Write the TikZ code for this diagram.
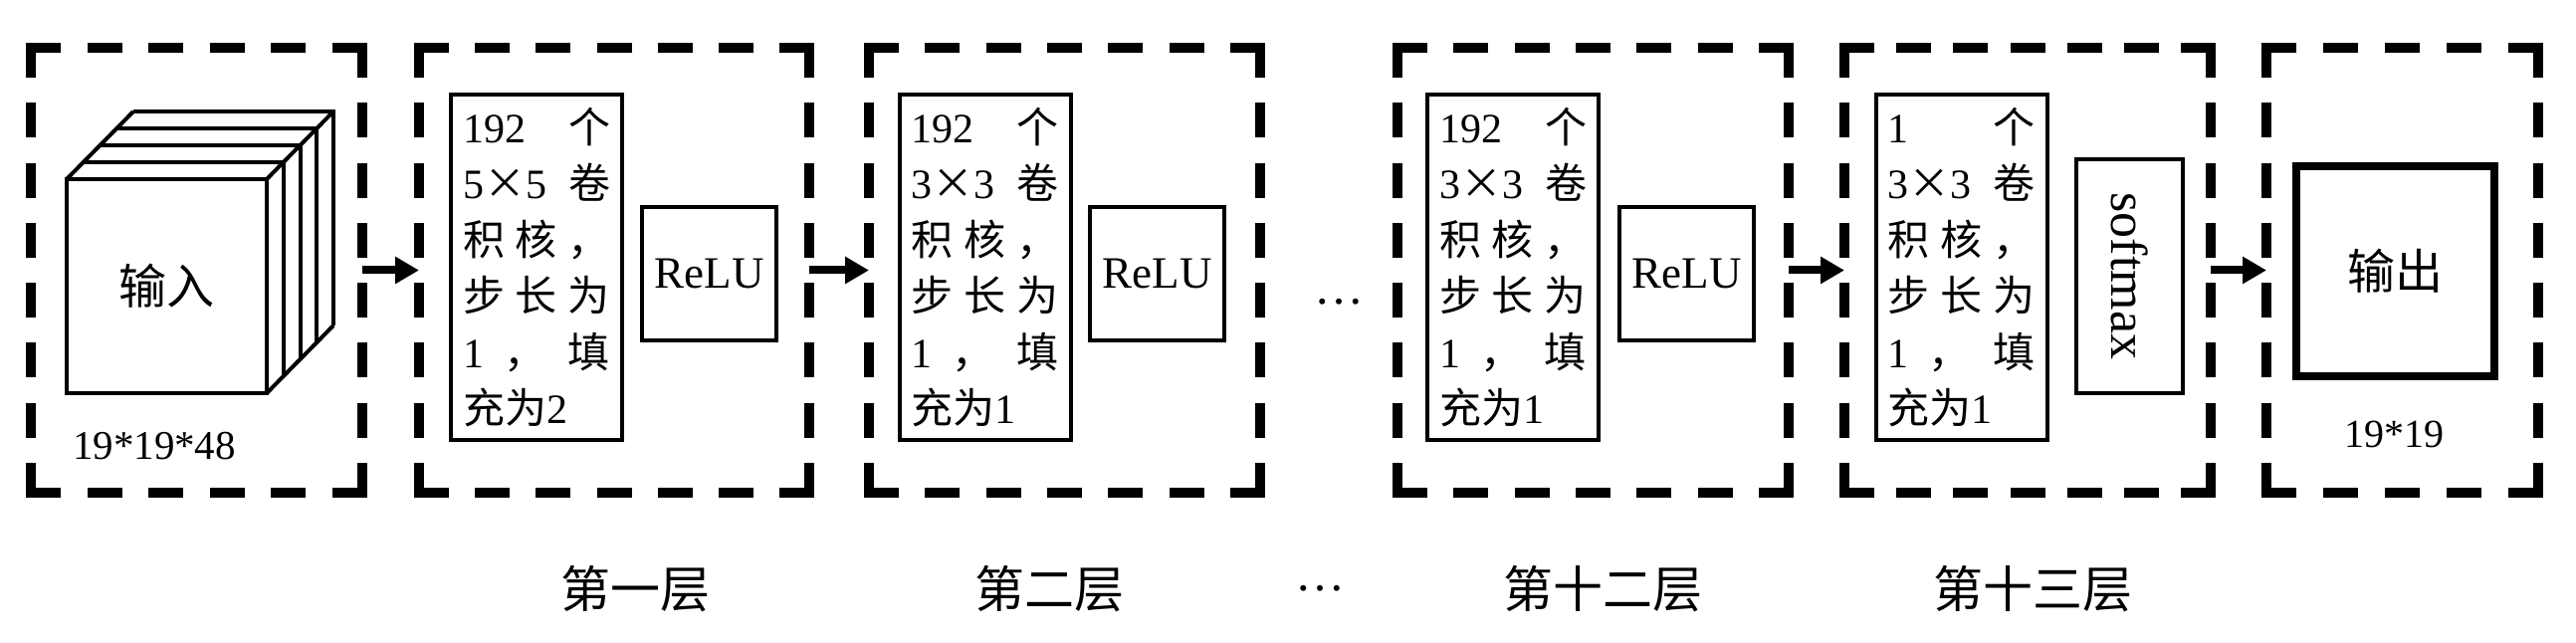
\documentclass[tikz,border=0pt]{standalone}
\usepackage{fontspec}
\setmainfont{Liberation Serif}
\newfontfamily\cjk{Noto Sans CJK SC}
\newfontfamily\cjkfw[CharacterWidth=Full]{Noto Sans CJK SC}
\usetikzlibrary{arrows.meta}
\newcommand\zh[1]{{\cjk #1}}
\newcommand\cv[3]{\makebox[26.5pt][l]{#1}\makebox[26.5pt][l]{#2}#3}
\newcommand\fside[4]{%
  \pgfmathsetmacro\fsL{abs(#3-#1)+abs(#4-#2)}%
  \pgfmathsetmacro\fsN{max(1,round((\fsL-25)/61))}%
  \pgfmathsetmacro\fsG{((\fsL-25)/\fsN-25)*0.5}%
  \draw[frameline, dash pattern=on 12.5pt off \fsG pt] (#1,#2) -- (#3,#4);}
\newcommand\frm[5]{%
  \node[frame, minimum width={(#4-#2)*0.5pt}, minimum height={(#5-#3)*0.5pt}] (#1) at ({(#2+#4)/2},{(#3+#5)/2}) {};
  \fside{#2}{#3}{#4}{#3}\fside{#4}{#3}{#4}{#5}\fside{#4}{#5}{#2}{#5}\fside{#2}{#5}{#2}{#3}}
\tikzset{
  frameline/.style={line width=5pt, line cap=rect},
  frame/.style={inner sep=0pt, outer sep=0pt},
  convbox/.style={draw, line width=2pt, inner sep=0pt, minimum width=86pt, minimum height=173.5pt,
    text width=74pt, align=left, font=\fontsize{21}{28.25}\selectfont},
  actbox/.style={draw, line width=2pt, inner sep=0pt, minimum width=67.5pt, minimum height=67pt,
    font=\fontsize{22.5}{27}\selectfont},
  cube/.style={line width=2pt, line join=miter},
  conn/.style={line width=4pt, -{Triangle[length=12pt,width=13pt]}},
  dimlabel/.style={font=\fontsize{20.5}{24}\selectfont},
  layerlabel/.style={font=\cjk\fontsize{25}{30}\selectfont},
  dotsstyle/.style={font=\fontsize{25}{30}\selectfont, anchor=base, inner sep=0pt},
}
\begin{document}
\begin{tikzpicture}[x=0.5pt, y=-0.5pt]
\useasboundingbox (0,0) rectangle (2588,646);

% dashed frames
\frm{f0}{31}{48}{364}{495}
\frm{f1}{421}{48}{813}{495}
\frm{f2}{873}{48}{1266}{495}
\frm{f3}{1404}{48}{1797}{495}
\frm{f4}{1853}{48}{2221}{495}
\frm{f5}{2277}{48}{2550}{495}

% input cube
\foreach \k in {4,3,2,1} {
  \draw[cube] ({67+16.75*\k},{180-17*\k}) -- ({268+16.75*\k},{180-17*\k}) -- ({268+16.75*\k},{395-17*\k});
}
\draw[cube] (67,180) -- (134,112);
\draw[cube] (268,180) -- (335,112);
\draw[cube] (268,395) -- (335,327);
\node[draw, line width=2pt, inner sep=0pt, minimum width=100.5pt, minimum height=107.5pt,
  font=\cjk\fontsize{24}{28}\selectfont, fill=white] (inface) at (167.5,287.5) {输入};
\node[dimlabel] (indim) at (155,448) {19*19*48};

% layer 1
\node[convbox] (c1) at (539,268.5) {%
\cv{192}{}{\zh{个}}\\
\cv{5{\cjkfw ×}5}{}{\zh{卷}}\\
\cv{\zh{积}}{\zh{核}}{\zh{，}}\\
\cv{\zh{步}}{\zh{长}}{\zh{为}}\\
\cv{1}{\hspace{-6pt}\zh{，}}{\zh{填}}\\
\zh{充为}2};
\node[actbox] (r1) at (712.5,275) {ReLU};

% layer 2
\node[convbox] (c2) at (989.5,268.5) {%
\cv{192}{}{\zh{个}}\\
\cv{3{\cjkfw ×}3}{}{\zh{卷}}\\
\cv{\zh{积}}{\zh{核}}{\zh{，}}\\
\cv{\zh{步}}{\zh{长}}{\zh{为}}\\
\cv{1}{\hspace{-6pt}\zh{，}}{\zh{填}}\\
\zh{充为}1};
\node[actbox] (r2) at (1162.5,275) {ReLU};

% layer 12
\node[convbox] (c3) at (1520,268.5) {%
\cv{192}{}{\zh{个}}\\
\cv{3{\cjkfw ×}3}{}{\zh{卷}}\\
\cv{\zh{积}}{\zh{核}}{\zh{，}}\\
\cv{\zh{步}}{\zh{长}}{\zh{为}}\\
\cv{1}{\hspace{-6pt}\zh{，}}{\zh{填}}\\
\zh{充为}1};
\node[actbox] (r3) at (1694.5,275) {ReLU};

% layer 13
\node[convbox] (c4) at (1970.5,268.5) {%
\cv{1}{}{\zh{个}}\\
\cv{3{\cjkfw ×}3}{}{\zh{卷}}\\
\cv{\zh{积}}{\zh{核}}{\zh{，}}\\
\cv{\zh{步}}{\zh{长}}{\zh{为}}\\
\cv{1}{\hspace{-6pt}\zh{，}}{\zh{填}}\\
\zh{充为}1};
\node[draw, line width=2pt, inner sep=0pt, minimum width=53.5pt, minimum height=117.5pt] (s4) at (2139.5,277.5) {};
\node[rotate=-90, font=\fontsize{26}{30}\selectfont] (smtext) at (s4.center) {softmax};

% output
\node[draw, line width=4pt, inner sep=0pt, minimum width=99.5pt, minimum height=105.5pt,
  font=\cjk\fontsize{24}{28}\selectfont] (out) at (2406.5,272.5) {输出};
\node[dimlabel, font=\fontsize{20}{24}\selectfont] (outdim) at (2405,436) {19*19};

% ellipses
\node[dotsstyle] (dots1) at (1345,306) {…};
\node[dotsstyle] (dots2) at (1326,594) {…};

% connectors
\draw[conn] (f0.east) -- (f1.west);
\draw[conn] (f1.east) -- (f2.west);
\draw[conn] (f3.east) -- (f4.west);
\draw[conn] (f4.east) -- (f5.west);

% layer labels
\node[layerlabel] (l1) at (638,592) {第一层};
\node[layerlabel] (l2) at (1054,592) {第二层};
\node[layerlabel] (l3) at (1610,592) {第十二层};
\node[layerlabel] (l4) at (2042,592) {第十三层};
\end{tikzpicture}
\end{document}
